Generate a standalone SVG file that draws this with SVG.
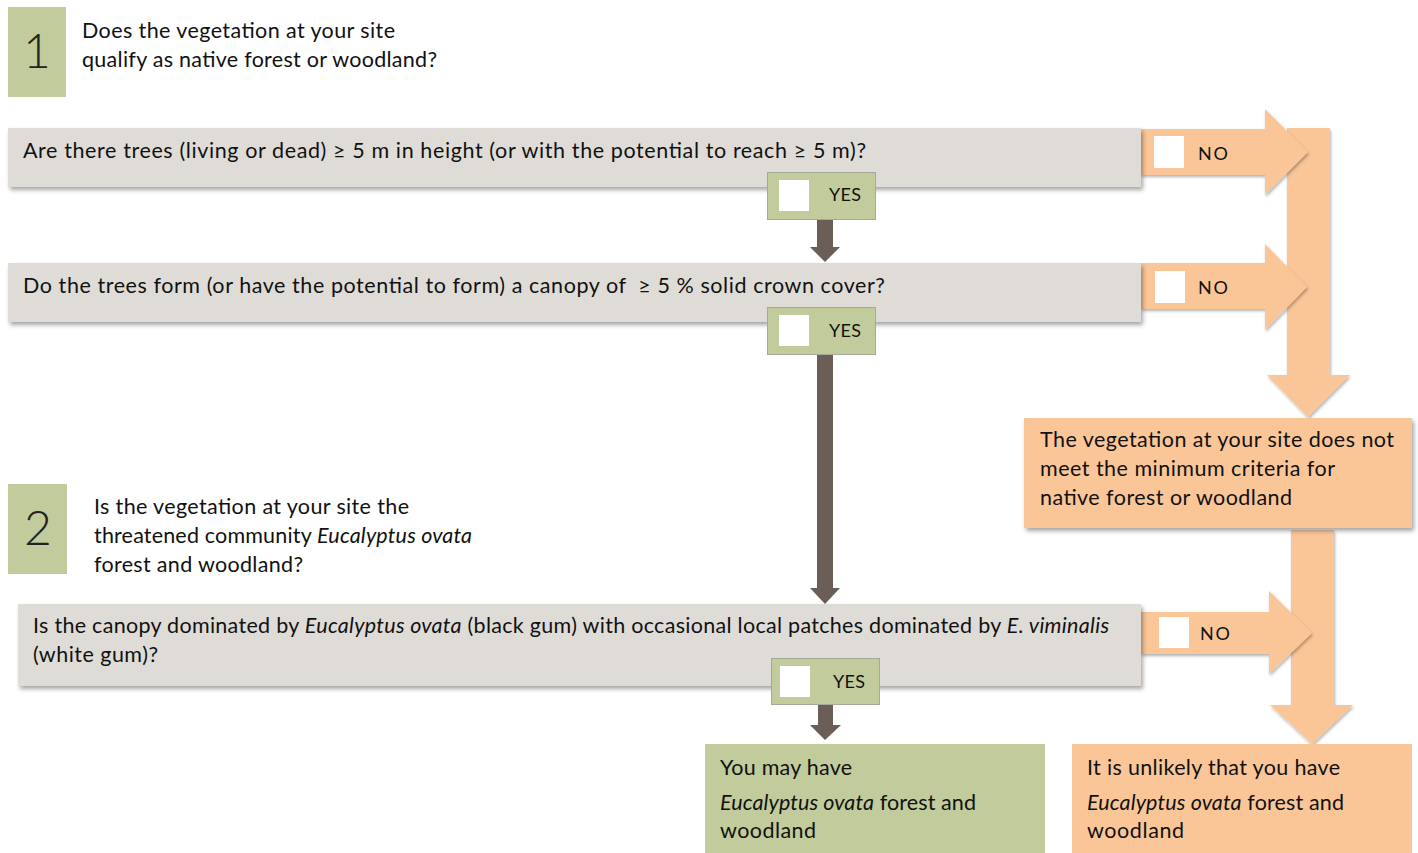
<svg xmlns="http://www.w3.org/2000/svg" width="1418" height="853" viewBox="0 0 1418 853">
<defs>
<filter id="sh" x="-5%" y="-20%" width="110%" height="150%">
<feDropShadow dx="2" dy="3" stdDeviation="2" flood-color="#000" flood-opacity="0.35"/>
</filter>
<filter id="sh2" x="-20%" y="-20%" width="140%" height="140%">
<feDropShadow dx="1" dy="2" stdDeviation="1.5" flood-color="#000" flood-opacity="0.3"/>
</filter>
<style>
text{font-family:Lato,"Open Sans","Liberation Sans",sans-serif;fill:#111;}
.t{font-size:21.5px;}
.s{font-size:18px;}
.num{font-size:48px;font-weight:300;fill:#222;}
.green{fill:#c1cb9b;}
.gray{fill:#dfdcd7;}
.orange{fill:#fac698;}
.brown{fill:#6a5e56;}
.yes{fill:#c1cb9b;stroke:#a6a89a;stroke-width:1;}
.box{fill:#fff;}
.i{font-style:italic;}
</style>
</defs>

<g id="step1">
<rect class="green" x="8" y="7" width="58" height="90"/>
<text class="num" x="37" y="68" text-anchor="middle">1</text>
<text class="t" x="82" y="38" textLength="313" lengthAdjust="spacing">Does the vegetation at your site</text>
<text class="t" x="82" y="67" textLength="355" lengthAdjust="spacing">qualify as native forest or woodland?</text>
</g>

<g id="connectors">
<polygon class="orange" points="1287,128 1330,128 1330,375 1350,375 1308,417 1267,375 1287,375" filter="url(#sh2)"/>
<polygon class="orange" points="1291,530 1334,530 1334,705 1353,705 1312,744 1270,705 1291,705" filter="url(#sh2)"/>
<polygon class="orange" points="1141,129 1265,129 1265,109 1308,152 1265,195 1265,175 1141,175" filter="url(#sh2)"/>
<polygon class="orange" points="1141,263 1265,263 1265,244 1307,287 1265,330 1265,309 1141,309" filter="url(#sh2)"/>
<polygon class="orange" points="1141,612 1269,612 1269,591 1312,633 1269,674 1269,654 1141,654" filter="url(#sh2)"/>
<polygon class="brown" points="817,219 833,219 833,247 840,247 825,262 810,247 817,247"/>
<polygon class="brown" points="817,355 833,355 833,588 840,588 825,604 810,588 817,588"/>
<polygon class="brown" points="818,704 833,704 833,725 841,725 825,740 810,725 818,725"/>
<rect class="box" x="1154" y="136" width="30" height="32"/>
<text class="s" x="1198" y="160" textLength="30" lengthAdjust="spacing">NO</text>
<rect class="box" x="1155" y="271" width="30" height="32"/>
<text class="s" x="1198" y="294" textLength="30" lengthAdjust="spacing">NO</text>
<rect class="box" x="1159" y="617" width="30" height="31"/>
<text class="s" x="1200" y="640" textLength="30" lengthAdjust="spacing">NO</text>
</g>

<g id="q1">
<rect class="gray" x="8" y="128" width="1133" height="59" filter="url(#sh)"/>
<text class="t" x="23" y="158" textLength="843" lengthAdjust="spacing">Are there trees (living or dead) ≥ 5 m in height (or with the potential to reach ≥ 5 m)?</text>
</g>
<g id="yes1">
<rect class="yes" x="767.500" y="172.500" width="108" height="47"/>
<rect class="box" x="779" y="180" width="30" height="31"/>
<text class="s" x="829" y="201" textLength="32" lengthAdjust="spacing">YES</text>
</g>

<g id="q2">
<rect class="gray" x="8" y="263" width="1133" height="59" filter="url(#sh)"/>
<text class="t" x="23" y="293" textLength="862" lengthAdjust="spacing" xml:space="preserve">Do the trees form (or have the potential to form) a canopy of  ≥ 5 % solid crown cover?</text>
</g>
<g id="yes2">
<rect class="yes" x="767.500" y="307.500" width="108" height="47"/>
<rect class="box" x="779" y="315" width="30" height="31"/>
<text class="s" x="829" y="337" textLength="32" lengthAdjust="spacing">YES</text>
</g>

<g id="result-not-native">
<rect class="orange" x="1024" y="418" width="388" height="110" filter="url(#sh)"/>
<text class="t" x="1040" y="447" textLength="354" lengthAdjust="spacing">The vegetation at your site does not</text>
<text class="t" x="1040" y="476" textLength="295" lengthAdjust="spacing">meet the minimum criteria for</text>
<text class="t" x="1040" y="505" textLength="252" lengthAdjust="spacing">native forest or woodland</text>
</g>

<g id="step2">
<rect class="green" x="8" y="484" width="59" height="90"/>
<text class="num" x="38" y="545" text-anchor="middle">2</text>
<text class="t" x="94" y="514" textLength="315" lengthAdjust="spacing">Is the vegetation at your site the</text>
<text class="t" x="94" y="543" textLength="378" lengthAdjust="spacing">threatened community <tspan class="i">Eucalyptus ovata</tspan></text>
<text class="t" x="94" y="572" textLength="209" lengthAdjust="spacing">forest and woodland?</text>
</g>

<g id="q3">
<rect class="gray" x="18" y="604" width="1123" height="82" filter="url(#sh)"/>
<text class="t" x="33" y="633" textLength="1076" lengthAdjust="spacing">Is the canopy dominated by <tspan class="i">Eucalyptus ovata</tspan> (black gum) with occasional local patches dominated by <tspan class="i">E. viminalis</tspan></text>
<text class="t" x="33" y="662" textLength="125" lengthAdjust="spacing">(white gum)?</text>
</g>
<g id="yes3">
<rect class="yes" x="771.500" y="658.500" width="108" height="46"/>
<rect class="box" x="780" y="666" width="30" height="31"/>
<text class="s" x="833" y="688" textLength="32" lengthAdjust="spacing">YES</text>
</g>

<g id="result-may-have">
<rect class="green" x="705" y="744" width="340" height="109"/>
<text class="t" x="720" y="775" textLength="132" lengthAdjust="spacing">You may have</text>
<text class="t" x="720" y="810" textLength="256" lengthAdjust="spacing"><tspan class="i">Eucalyptus ovata</tspan> forest and</text>
<text class="t" x="720" y="838" textLength="96" lengthAdjust="spacing">woodland</text>
</g>

<g id="result-unlikely">
<rect class="orange" x="1072" y="744" width="340" height="109"/>
<text class="t" x="1087" y="775" textLength="253" lengthAdjust="spacing">It is unlikely that you have</text>
<text class="t" x="1087" y="810" textLength="257" lengthAdjust="spacing"><tspan class="i">Eucalyptus ovata</tspan> forest and</text>
<text class="t" x="1087" y="838" textLength="97" lengthAdjust="spacing">woodland</text>
</g>
</svg>
